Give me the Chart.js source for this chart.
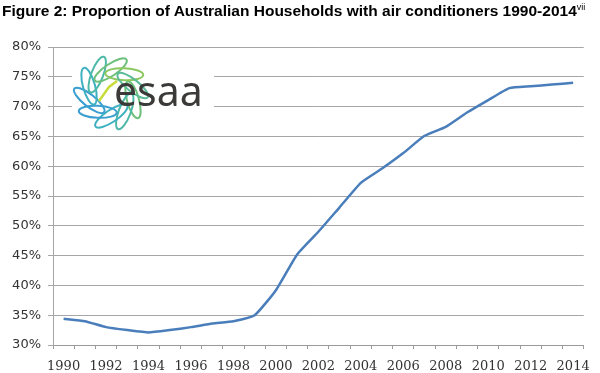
<!DOCTYPE html>
<html>
<head>
<meta charset="utf-8">
<script src="https://cdn.jsdelivr.net/npm/chart.js@4.4.1/dist/chart.umd.min.js"></script>
<style>
  html, body { margin: 0; padding: 0; background: #fff; }
  #wrap { position: relative; width: 600px; height: 373px; }
  #title {
    position: absolute; left: 2px; top: 2px;
    font: bold 15.5px "Liberation Sans", Arial, sans-serif;
    color: #000; white-space: nowrap;
  }
  #title sup { font-size: 9px; font-weight: normal; vertical-align: 6px; }
  canvas { position: absolute; left: 0; top: 0; }
</style>
</head>
<body>
<div id="wrap">
  <canvas id="chart" width="600" height="373"></canvas>
  <div id="title">Figure 2: Proportion of Australian Households with air conditioners 1990-2014<sup>vii</sup></div>
</div>
<script>
const years = ["1990","1991","1992","1993","1994","1995","1996","1997","1998","1999","2000","2001","2002",
  "2003","2004","2005","2006","2007","2008","2009","2010","2011","2012","2013","2014"];
const share = [34.4, 34.0, 33.0, 32.5, 32.1, 32.5, 33.0, 33.6, 34.0, 35.0, 39.2, 45.2, 49.0,
  53.1, 57.2, 59.6, 62.2, 65.1, 66.6, 69.0, 71.1, 73.1, 73.4, 73.7, 74.0];
const yMin = 30;
const yMax = 80;
const yStep = 5;

// esaa logo in the top left corner of the plot
const logo = {
  id: "logo",
  afterDraw(chart) {
    const ctx = chart.ctx;
    ctx.save();
    ctx.fillStyle = "#fff";
    ctx.fillRect(72, 50, 142, 83);
    const cx = 111, cy = 93;
    const colors = ["#6cc07a", "#4cb8a8", "#3fb0c0", "#3a9fd0", "#3a9fd0", "#3fb0c0", "#4cb8a8", "#6cc07a", "#8cc860", "#5bbb98"];
    ctx.lineWidth = 2;
    for (let i = 0; i < 10; i++) {
      const a = i * Math.PI / 5 + 0.3;
      ctx.strokeStyle = colors[i];
      ctx.beginPath();
      ctx.ellipse(cx + Math.cos(a) * 23, cy + Math.sin(a) * 23, 19, 6, a + 1.0, 0, Math.PI * 2);
      ctx.stroke();
    }
    ctx.strokeStyle = "#c8dc3a";
    ctx.lineWidth = 2.5;
    ctx.beginPath();
    ctx.moveTo(cx - 12, cy + 8);
    ctx.lineTo(cx - 2, cy - 6);
    ctx.lineTo(cx + 6, cy - 12);
    ctx.stroke();
    ctx.fillStyle = "#3b3a38";
    ctx.font = "41px 'Noto Sans', sans-serif";
    ctx.textBaseline = "alphabetic";
    ctx.fillText("esaa", 114, 106);
    ctx.restore();
  }
};

new Chart(document.getElementById("chart"), {
  type: "line",
  data: {
    labels: years,
    datasets: [{
      data: share,
      borderColor: "#4a7ebb",
      borderWidth: 2.5,
      pointRadius: 0,
      tension: 0.15,
      fill: false
    }]
  },
  options: {
    responsive: false,
    animation: false,
    layout: { padding: { top: 47, right: 16, left: 0, bottom: 0 } },
    plugins: {
      legend: { display: false },
      tooltip: { enabled: false }
    },
    scales: {
      x: {
        offset: true,
        grid: { offset: true, drawOnChartArea: false, drawTicks: true, tickLength: 4, color: "#9a9a9a" },
        border: { color: "#9a9a9a" },
        ticks: {
          autoSkip: false,
          maxRotation: 0,
          padding: 10,
          color: "#333",
          font: { family: "'DejaVu Serif', serif", size: 13 },
          callback: (v, i) => i % 2 === 0 ? years[i] : ""
        },
        afterFit: s => { s.height = 28; }
      },
      y: {
        min: yMin,
        max: yMax,
        grid: { color: "#a6a6a6", tickLength: 5, lineWidth: 1 },
        border: { color: "#a6a6a6" },
        ticks: {
          stepSize: yStep,
          padding: 7,
          color: "#333",
          font: { family: "'DejaVu Sans', sans-serif", size: 13 },
          callback: v => v + "%"
        },
        afterFit: s => { s.width = 53; }
      }
    }
  },
  plugins: [logo]
});
</script>
</body>
</html>
